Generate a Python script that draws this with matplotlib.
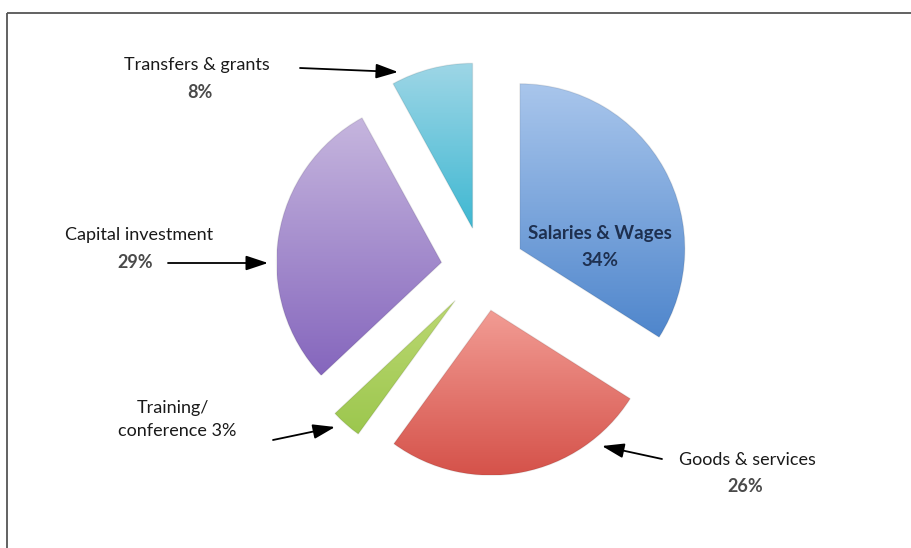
import numpy as np
import matplotlib
matplotlib.use("Agg")
import matplotlib.pyplot as plt
from matplotlib.colors import LinearSegmentedColormap

# Budget shares, clockwise from 12 o'clock
categories = ["Salaries & Wages", "Goods & services", "Training/\nconference",
              "Capital investment", "Transfers & grants"]
values = [34, 26, 3, 29, 8]

# top / bottom colours of each slice's vertical gradient
grad_top = ["#a9c6ec", "#f29c94", "#bcd872", "#c6b6de", "#9ed6e6"]
grad_bot = ["#4f86cc", "#d5524a", "#9cc74e", "#8566bd", "#3fb8d2"]

W, H = 911, 548
fig = plt.figure(figsize=(W / 100, H / 100), dpi=100)
ax = fig.add_axes([0, 0, 1, 1])

def Y(y):
    return H - y

center = (483, Y(269))
radius = 165
wedges, _ = ax.pie(values, center=center, radius=radius, explode=[42] * len(values),
                   startangle=90, counterclock=False, frame=True,
                   wedgeprops=dict(linewidth=0))

# vertical gradient fill clipped to each wedge
for w, c0, c1 in zip(wedges, grad_top, grad_bot):
    w.set_facecolor("none")
    w.set_edgecolor((0, 0, 0, 0.08))
    w.set_linewidth(1.0)
    bb = w.get_path().get_extents(w.get_patch_transform())
    cmap = LinearSegmentedColormap.from_list("g", [c1, c0])
    grad = np.linspace(0, 1, 256).reshape(-1, 1)
    im = ax.imshow(grad, cmap=cmap, origin="lower", aspect="auto",
                   extent=[bb.x0, bb.x1, bb.y0, bb.y1], interpolation="bicubic", zorder=1)
    im.set_clip_path(w)
    w.set_zorder(2)

ax.set_xlim(0, W)
ax.set_ylim(0, H)
ax.set_aspect("equal")
ax.axis("off")

# frame lines (top and left)
ax.plot([7, W], [Y(13), Y(13)], color="#555555", lw=1.3, solid_capstyle="butt")
ax.plot([7, 7], [Y(13), 0], color="#555555", lw=1.3, solid_capstyle="butt")

font = ["Lato", "DejaVu Sans"]
txt_kw = dict(family=font, fontsize=13, color="#1a1a1a", ha="center", va="center")
pct_kw = dict(family=font, fontsize=13, color="#4a4a4a", ha="center", va="center",
              fontweight="bold")
arrow = dict(arrowstyle="-|>,head_length=0.9,head_width=0.3", color="black",
             lw=1.3, mutation_scale=15, shrinkA=0, shrinkB=0)

pct = [f"{v}%" for v in values]

# Salaries & Wages: inside the slice
ax.text(600, Y(233), categories[0], family=font, fontsize=13.5, fontweight="bold",
        color="#1e3050", ha="center", va="center")
ax.text(600, Y(260), pct[0], family=font, fontsize=13.5, fontweight="bold",
        color="#1e3050", ha="center", va="center")

# Goods & services
ax.text(747, Y(460), categories[1], **txt_kw)
ax.text(745, Y(487), pct[1], **pct_kw)
ax.annotate("", xy=(602, Y(446)), xytext=(662, Y(459)), arrowprops=arrow)

# Training / conference
ax.text(173, Y(408), categories[2].split("\n")[0], **txt_kw)
ax.text(177, Y(431), categories[2].split("\n")[1] + " " + pct[2], **txt_kw)
ax.annotate("", xy=(335, Y(427)), xytext=(273, Y(440)), arrowprops=arrow)

# Capital investment
ax.text(139, Y(235), categories[3], **txt_kw)
ax.text(135, Y(263), pct[3], **pct_kw)
ax.annotate("", xy=(268, Y(263)), xytext=(168, Y(263)), arrowprops=arrow)

# Transfers & grants
ax.text(197, Y(65), categories[4], **txt_kw)
ax.text(200, Y(93), pct[4], **pct_kw)
ax.annotate("", xy=(398, Y(72)), xytext=(300, Y(68)), arrowprops=arrow)

fig.savefig("out.png", dpi=100, facecolor="white")
